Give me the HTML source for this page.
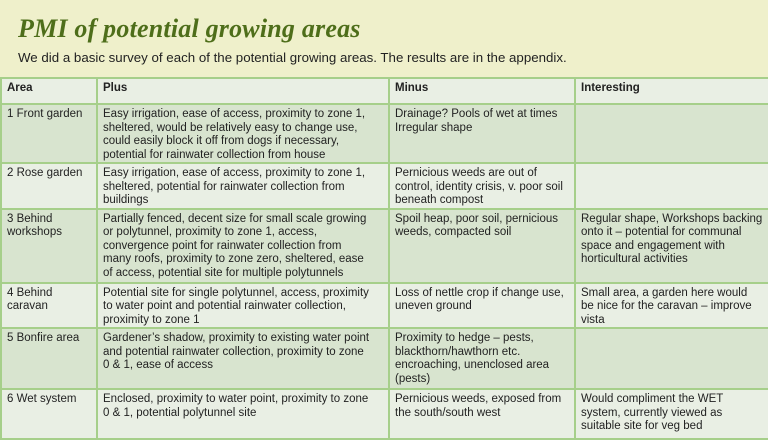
<!DOCTYPE html>
<html><head><meta charset="utf-8"><style>
body{margin:0;width:768px;height:432px;overflow:hidden;background:#eff0cb;font-family:"Liberation Sans",sans-serif;position:relative}
h1{position:absolute;left:18px;top:14px;margin:0;font:italic bold 26px "Liberation Serif",serif;color:#4e6e1a;letter-spacing:0.2px}
.sub{position:absolute;left:18px;top:50px;font-size:13.3px;color:#222}
table{position:absolute;left:0;top:77px;width:768px;border-collapse:collapse;table-layout:fixed;font-size:11.5px;line-height:13.5px;color:#222}
td,th{border:2px solid #a6cf8a;padding:3px 5px 0 5px;vertical-align:top;white-space:nowrap;overflow:hidden;text-align:left}
th{font-weight:bold;background:#e9efe4}
tr.d td{background:#d8e4cf}
tr.l td{background:#e9efe4}
</style></head><body>
<h1>PMI of potential growing areas</h1>
<div class="sub">We did a basic survey of each of the potential growing areas. The results are in the appendix.</div>
<table>
<colgroup><col style="width:96px"><col style="width:292px"><col style="width:186px"><col style="width:194px"></colgroup>
<tr style="height:26px"><th>Area</th><th>Plus</th><th>Minus</th><th>Interesting</th></tr>
<tr class="d" style="height:59px"><td>1 Front garden</td><td>Easy irrigation, ease of access, proximity to zone 1,<br>sheltered, would be relatively easy to change use,<br>could easily block it off from dogs if necessary,<br>potential for rainwater collection from house</td><td>Drainage? Pools of wet at times<br>Irregular shape</td><td></td></tr>
<tr class="l" style="height:44px"><td>2 Rose garden</td><td>Easy irrigation, ease of access, proximity to zone 1,<br>sheltered, potential for rainwater collection from<br>buildings</td><td>Pernicious weeds are out of<br>control, identity crisis, v. poor soil<br>beneath compost</td><td></td></tr>
<tr class="d" style="height:74px"><td>3 Behind<br>workshops</td><td>Partially fenced, decent size for small scale growing<br>or polytunnel, proximity to zone 1, access,<br>convergence point for rainwater collection from<br>many roofs, proximity to zone zero, sheltered, ease<br>of access, potential site for multiple polytunnels</td><td>Spoil heap, poor soil, pernicious<br>weeds, compacted soil</td><td>Regular shape, Workshops backing<br>onto it – potential for communal<br>space and engagement with<br>horticultural activities</td></tr>
<tr class="l" style="height:42px"><td>4 Behind<br>caravan</td><td>Potential site for single polytunnel, access, proximity<br>to water point and potential rainwater collection,<br>proximity to zone 1</td><td>Loss of nettle crop if change use,<br>uneven ground</td><td>Small area, a garden here would<br>be nice for the caravan – improve<br>vista</td></tr>
<tr class="d" style="height:61px"><td>5 Bonfire area</td><td>Gardener’s shadow, proximity to existing water point<br>and potential rainwater collection, proximity to zone<br>0 &amp; 1, ease of access</td><td>Proximity to hedge – pests,<br>blackthorn/hawthorn etc.<br>encroaching, unenclosed area<br>(pests)</td><td></td></tr>
<tr class="l" style="height:50px"><td>6 Wet system</td><td>Enclosed, proximity to water point, proximity to zone<br>0 &amp; 1, potential polytunnel site</td><td>Pernicious weeds, exposed from<br>the south/south west</td><td>Would compliment the WET<br>system, currently viewed as<br>suitable site for veg bed</td></tr>
</table>
</body></html>
